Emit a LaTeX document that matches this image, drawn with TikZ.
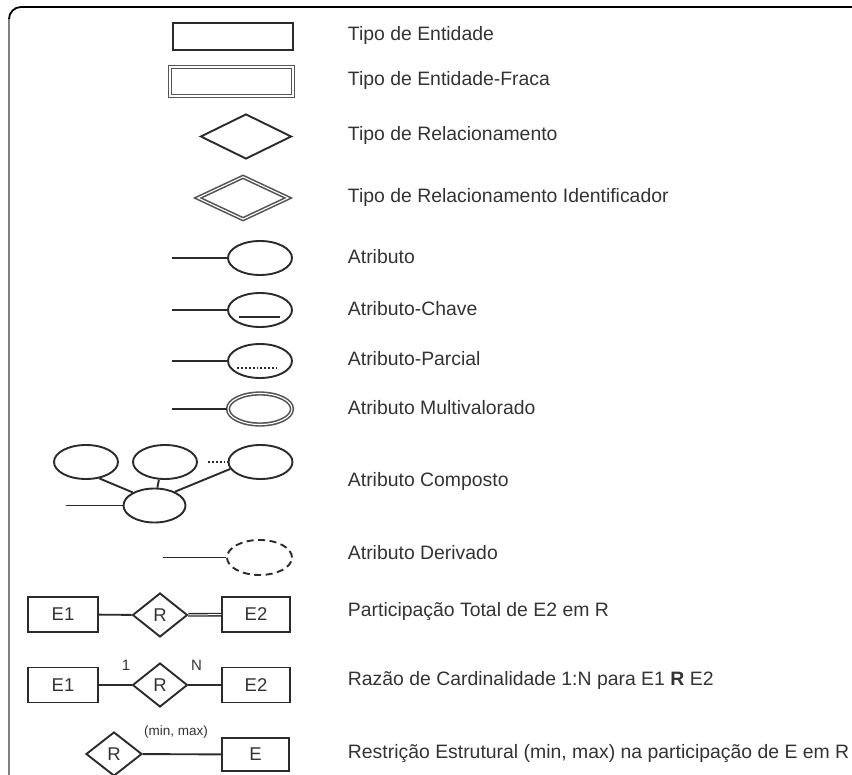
\documentclass[tikz,border=0pt]{standalone}
\usepackage{fontspec}
\setmainfont{Liberation Sans}
\usetikzlibrary{shapes.geometric}
\definecolor{ink}{HTML}{2B2B2B}
\definecolor{txt}{HTML}{333333}
\definecolor{dbl}{HTML}{555555}
\begin{document}
\begin{tikzpicture}[x=1pt,y=-1pt, color=ink, line width=1.9pt,
  ent/.style={draw=ink, line width=1.9pt, rectangle, inner sep=0pt, fill=white},
  weakent/.style={draw=dbl, line width=1.6pt, double=white, double distance=1.1pt, rectangle, inner sep=0pt},
  rel/.style={draw=ink, line width=1.9pt, diamond, inner sep=0pt, fill=white},
  idrel/.style={draw=dbl, line width=1.6pt, double=white, double distance=1.1pt, diamond, inner sep=0pt},
  attr/.style={draw=ink, line width=1.9pt, ellipse, inner sep=0pt, minimum width=64pt, minimum height=34pt},
  multattr/.style={draw=dbl, line width=1.6pt, double=white, double distance=1.1pt, ellipse, inner sep=0pt, minimum width=64pt, minimum height=31pt},
  legend/.style={anchor=west, inner sep=0pt, text=txt, font=\fontsize{19.4}{23}\selectfont},
  etext/.style={text=txt, font=\fontsize{18.5}{21}\selectfont},
  card/.style={inner sep=0pt, text=txt, font=\fontsize{15}{18}\selectfont},
  small/.style={inner sep=0pt, text=txt, font=\fontsize{13.5}{16}\selectfont}]
\useasboundingbox (0,0) rectangle (852,775);

% frame
\draw[black, line width=1.8pt] (852,7) -- (21,7) arc[start angle=270, end angle=180, radius=12];
\draw[draw=gray, line width=1.8pt] (9,19) -- (9,775);

% entity types
\node[ent, minimum width=120pt, minimum height=27pt] (ent) at (233,36.5) {};
\node[weakent, minimum width=123pt, minimum height=29pt] (weak) at (231.5,81.5) {};

% relationship types
\node[rel, minimum width=91pt, minimum height=45pt] (rel) at (246,136.5) {};
\node[idrel, minimum width=91pt, minimum height=43pt] (idrel) at (243,198) {};

% simple attribute
\node[attr] (a1) at (260,258) {};
\coordinate (a1l) at (172,258);
\draw (a1l) -- (a1);

% key attribute
\node[attr] (a2) at (260,310) {};
\coordinate (a2l) at (172,310);
\draw (a2l) -- (a2);
\draw ([xshift=-21pt,yshift=-7pt]a2.center) -- ([xshift=20pt,yshift=-7pt]a2.center);

% partial key attribute
\node[attr] (a3) at (260,361) {};
\coordinate (a3l) at (172,361);
\draw (a3l) -- (a3);
\draw[dotted] ([xshift=-23pt,yshift=-7pt]a3.center) -- ([xshift=17pt,yshift=-7pt]a3.center);

% multivalued attribute
\node[multattr] (a4) at (260,409) {};
\coordinate (a4l) at (172,409);
\draw (a4l) -- (a4);

% composite attribute
\node[attr] (c1) at (86,462) {};
\node[attr] (c2) at (165,462) {};
\node[attr] (c3) at (260.5,462) {};
\node[attr, minimum width=62pt] (cb) at (154.5,505.5) {};
\coordinate (cbl) at (66,505.5);
\draw (c1.-51) -- (cb.149);
\draw (c2.-109) -- (cb.81);
\draw (c3.193) -- (cb.34);
\draw[dotted, shorten <=10pt] (c2) -- (c3);
\draw (cbl) -- (cb);

% derived attribute
\node[attr, dash pattern=on 7pt off 4.5pt, minimum width=65pt, minimum height=35pt] (a5) at (259.5,557.5) {};
\coordinate (a5l) at (163,557.5);
\draw (a5l) -- (a5);

% total participation
\node[ent, etext, minimum width=70pt, minimum height=35pt] (p1) at (63,614.5) {E1};
\node[rel, etext, minimum width=55pt, minimum height=44pt] (pr) at (160,615) {R};
\node[ent, etext, minimum width=68pt, minimum height=35pt] (p2) at (256,614.5) {E2};
\draw (p1) -- (pr);
\draw[line width=1.4pt, double=white, double distance=1pt] (pr) -- (p2);

% cardinality ratio
\node[ent, etext, minimum width=70pt, minimum height=35pt] (k1) at (63,685) {E1};
\node[rel, etext, minimum width=55pt, minimum height=44pt] (kr) at (160,685) {R};
\node[ent, etext, minimum width=68pt, minimum height=35pt] (k2) at (256,685) {E2};
\draw (k1) -- (kr);
\draw (kr) -- (k2);
\node[card] (n1) at (126,665.5) {1};
\node[card] (nn) at (196.5,665.5) {N};

% structural constraint
\node[rel, etext, minimum width=56pt, minimum height=44pt] (sr) at (114,754) {R};
\node[ent, etext, minimum width=67pt, minimum height=33pt] (se) at (255.5,754.5) {E};
\draw (sr) -- (se);
\node[small] (mm) at (176,732) {(min, max)};

% legend texts
\node[legend] (t1) at (347,35) {Tipo de Entidade};
\node[legend] (t2) at (347,80) {Tipo de Entidade-Fraca};
\node[legend] (t3) at (347,135) {Tipo de Relacionamento};
\node[legend] (t4) at (347,197) {Tipo de Relacionamento Identificador};
\node[legend] (t5) at (347,257) {Atributo};
\node[legend] (t6) at (347,309) {Atributo-Chave};
\node[legend] (t7) at (347,359) {Atributo-Parcial};
\node[legend] (t8) at (347,408) {Atributo Multivalorado};
\node[legend] (t9) at (347,481) {Atributo Composto};
\node[legend] (t10) at (347,553) {Atributo Derivado};
\node[legend] (t11) at (347,612) {Participação Total de E2 em R};
\node[legend] (t12) at (347,680) {Razão de Cardinalidade 1:N para E1 \textbf{R} E2};
\node[legend] (t13) at (347,754) {Restrição Estrutural (min, max) na participação de E em R};
\end{tikzpicture}
\end{document}
